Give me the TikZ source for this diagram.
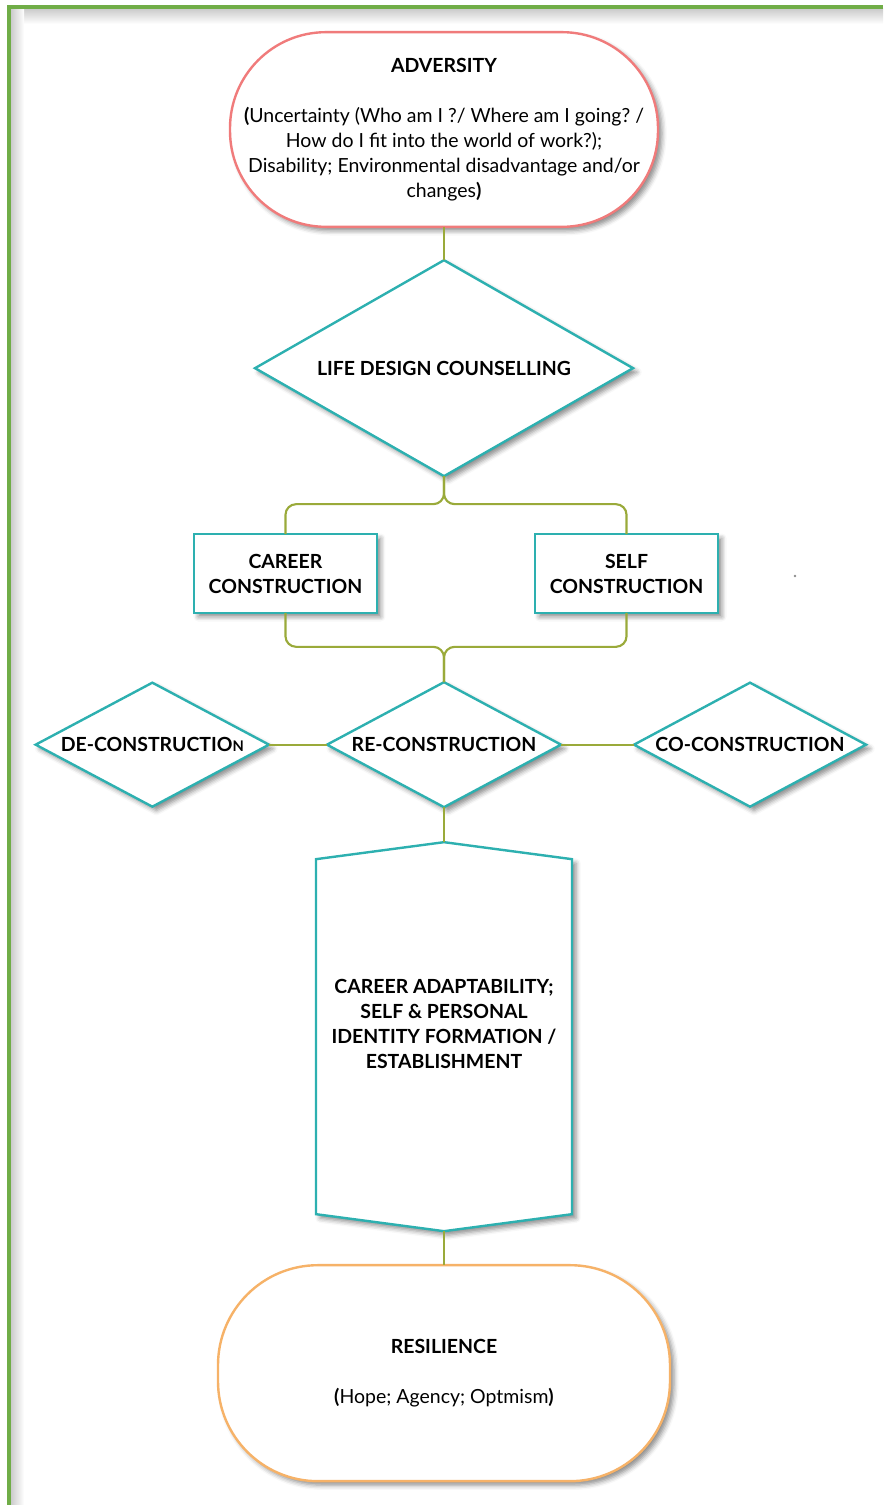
\documentclass[tikz,border=0pt]{standalone}
\usepackage{fontspec}
\setmainfont{Lato}
\frenchspacing
\usetikzlibrary{positioning, shapes.geometric, shadows.blur}

\definecolor{framegreen}{HTML}{70AD47}
\definecolor{advred}{HTML}{F07B7B}
\definecolor{stepteal}{HTML}{2DB0B0}
\definecolor{linkolive}{HTML}{9AAA3A}
\definecolor{resorange}{HTML}{F6B268}

\begin{document}
\begin{tikzpicture}[x = 0.75pt, y = -0.75pt, % pixel grid, y runs down
                line width = 1.8pt
            ]

            \tikzstyle{every node}=[font=\fontsize{14.6}{18.75}\selectfont,
            align = center, inner sep = 0pt, outer sep = 0pt]
            \tikzstyle{shadowed}=[blur shadow={shadow xshift = 3pt,
            shadow yshift = -3pt, shadow blur radius = 3.5pt,
            shadow opacity = 45}]
            \tikzstyle{stadium}=[rectangle, draw, fill = white, shadowed]
            \tikzstyle{decision}=[diamond, draw = stepteal, fill = white,
            shadowed, font=\fontsize{14.6}{18.75}\selectfont\bfseries]
            \tikzstyle{stepbox}=[rectangle, draw = stepteal, fill = white,
            shadowed, minimum width = 137pt, minimum height = 59pt,
            font=\fontsize{14.6}{18.75}\selectfont\bfseries]
            \tikzstyle{link}=[draw = linkolive, line width = 1.6pt,
            rounded corners = 8pt]

            \useasboundingbox (0,0) rectangle (883,1505);

            % page frame with its inner shadow
            \shade[top color = black!20, bottom color = white] (11,9)
            rectangle (883,24); \shade[left color = black!20, right color =
            white] (11,9) rectangle (24,1505);
            \draw[framegreen, line width = 3pt] (9,1505) -- (9,7) -- (883,7);

            \node (adv) [stadium, draw = advred, rounded corners = 72pt,
            minimum width = 321pt, minimum height = 146pt] at (444,129.5)
            {\textbf{ADVERSITY}\\[18.75pt]
            \textbf{(}Uncertainty (Who am I ?/ Where am I going? /\\
            How do I fit into the world of work?);\\
            Disability; Environmental disadvantage and/or\\
            changes\textbf{)}};

            \node (lds) [decision, aspect = 1.75, minimum width = 283.5pt,
            minimum height = 162pt, below = 25pt of adv]
            {LIFE DESIGN COUNSELLING};

            \node (career) [stepbox, below = 43.5pt of lds, xshift =
            -118.9pt] {CAREER\\CONSTRUCTION};
            \node (self) [stepbox, below = 43.5pt of lds, xshift = 136.9pt]
            {SELF\\CONSTRUCTION};

            \node (re) [decision, aspect = 1.87, minimum width = 175.5pt,
            minimum height = 93.75pt, below = 154.5pt of lds]
            {RE-CONSTRUCTION};
            \node (de) [decision, aspect = 1.87, minimum width = 175pt,
            minimum height = 93pt, left = 43.5pt of re]
            {DE-CONSTRUCTIO{\fontsize{11}{12}\selectfont N}};
            \node (co) [decision, aspect = 1.87, minimum width = 174pt,
            minimum height = 93pt, right = 54.75pt of re] {CO-CONSTRUCTION};

            % pointed panel: body node, tips added by hand
            \node (pent) [minimum width = 192pt, minimum height = 266.25pt,
            below = 39pt of re] {};
            \coordinate (ptop) at ([yshift = 12.75pt]pent.north);
            \coordinate (pbot) at ([yshift = -12.75pt]pent.south);
            \draw[stepteal, fill = white, shadowed] (pent.north west) --
            (ptop) -- (pent.north east) -- (pent.south east) -- (pbot) --
            (pent.south west) -- cycle;
            \node (adapt) at ([yshift = 9.75pt]pent.center)
            {\textbf{CAREER ADAPTABILITY;}\\ \textbf{SELF \& PERSONAL}\\
            \textbf{IDENTITY FORMATION /}\\ \textbf{ESTABLISHMENT}};

            \node (res) [stadium, draw = resorange, rounded corners = 75pt,
            minimum width = 339pt, minimum height = 162pt, below = 38.25pt of
            pent] {\textbf{RESILIENCE}\\[18.75pt]
            \textbf{(}Hope; Agency; Optmism\textbf{)}};

            \fill[black!45] (795,576) circle (1.1pt);

            \path[link] (adv) -- (lds);
            \path[link] (lds.south) -- ++(0,-21pt) -| (career.north);
            \path[link] (lds.south) -- ++(0,-21pt) -| (self.north);
            \path[link] (career.south) -- ++(0,-25.5pt) -| (re.north);
            \path[link] (self.south) -- ++(0,-25.5pt) -| (re.north);
            \path[link] (de) -- (re); \path[link] (re) -- (co);
            \path[link] (re.south) -- (ptop);
            \path[link] (pbot) -- (res.north);
\end{tikzpicture}
\end{document}
